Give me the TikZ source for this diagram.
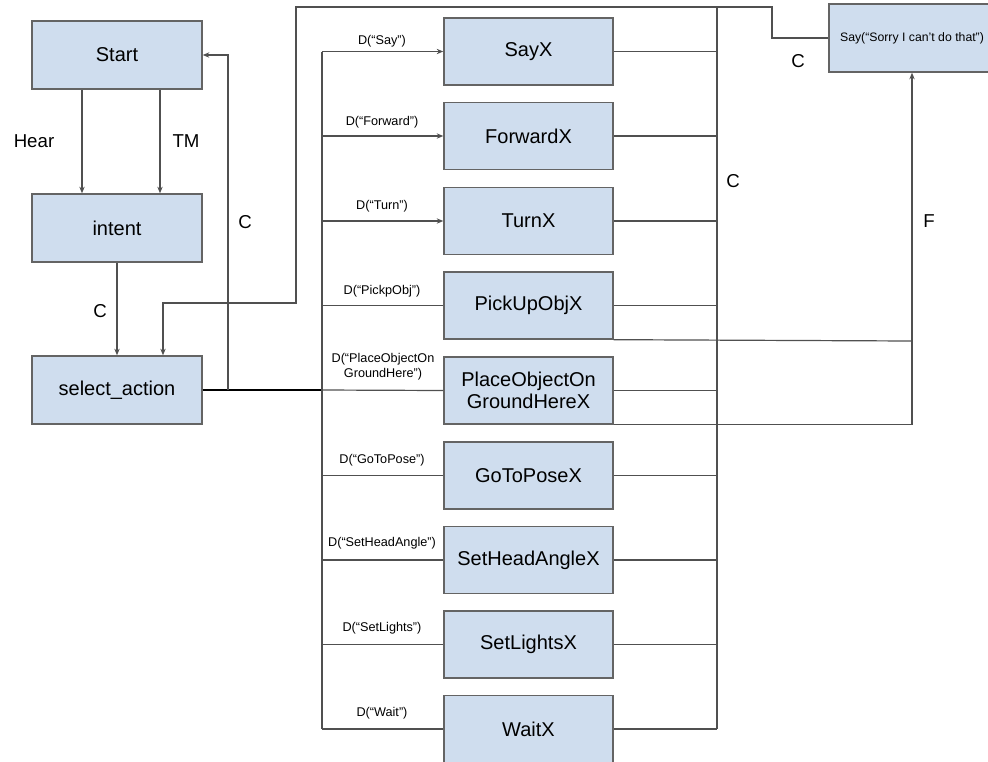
\documentclass[tikz,border=0pt]{standalone}
\usepackage{fontspec}
\setmainfont{Liberation Sans}
\usetikzlibrary{arrows.meta}
\definecolor{boxfill}{RGB}{207,221,238}
\definecolor{boxline}{RGB}{100,100,100}
\definecolor{conn}{RGB}{80,80,80}
\begin{document}
\begin{tikzpicture}[x=0.75pt,y=-0.75pt,
  blk/.style={draw=boxline,line width=1pt,fill=boxfill,minimum width=127.5pt,minimum height=51pt,inner sep=0pt,font=\fontsize{15}{17}\selectfont,align=center},
  mid/.style={blk,minimum width=126.75pt,minimum height=50.25pt},
  ln/.style={draw=conn,line width=0.9pt},
  arr/.style={ln,-{Stealth[length=5pt,width=4pt]}},
  lab/.style={font=\fontsize{14}{16}\selectfont,inner sep=0pt},
  dlab/.style={font=\fontsize{9.5}{11}\selectfont,inner sep=0pt,align=center}]
\useasboundingbox (0,0) rectangle (988,761);
% left column
\node[blk] (start) at (117,55) {Start};
\node[blk] (intent) at (117,228) {intent};
\node[blk] (sel) at (117,390) {select\_action};
% middle column
\node[mid] (sayx) at (528.5,51.5) {SayX};
\node[mid] (fwd) at (528.5,136) {ForwardX};
\node[mid] (turn) at (528.5,221) {TurnX};
\node[mid] (pick) at (528.5,305.5) {PickUpObjX};
\node[mid] (place) at (528.5,390.5) {PlaceObjectOn\\GroundHereX};
\node[mid] (gotopose) at (528.5,475.5) {GoToPoseX};
\node[mid] (head) at (528.5,560) {SetHeadAngleX};
\node[mid] (lights) at (528.5,644.5) {SetLightsX};
\node[mid] (wait) at (528.5,729) {WaitX};
% sorry box
\node[blk,minimum width=124.5pt,font=\fontsize{9.2}{11}\selectfont] (sorry) at (912,38) {Say(“Sorry I can’t do that”)};
% coordinates
\coordinate (lbtop) at (322,51.5);
\coordinate (lbbot) at (322,729);
\coordinate (rbtop) at (717,7);
\coordinate (rbbot) at (717,729);
\coordinate (cret) at (228,390);
\coordinate (jn) at (322,390);
\coordinate (pickend) at (912,341);
% start -> intent
\draw[arr] ([xshift=-26.25pt]start.south) -- ([xshift=-26.25pt]intent.north);
\draw[arr] ([xshift=32.25pt]start.south) -- ([xshift=32.25pt]intent.north);
\node[lab] (hear) at (34,141) {Hear};
\node[lab] (tm) at (186,141) {TM};
% intent -> select
\draw[arr] (intent.south) -- (sel.north);
\node[lab] (c1) at (100,311) {C};
% thick line
\draw[line width=2.2pt,black] (sel.east) -- (jn);
% return to start
\draw[arr] (cret) |- (start.east);
\node[lab] (c2) at (245,222) {C};
% sorry -> select_action
\draw[arr] (sorry.west) -| (772,7) -| (296,303) -| ([xshift=34.5pt]sel.north);
\node[lab] (c3) at (798,61) {C};
% left bus
\draw[ln] (lbtop) -- (lbbot);
\draw[arr] (lbtop) -- (sayx.west);
\draw[arr] (322,136) -- (fwd.west);
\draw[arr] (322,221) -- (turn.west);
\draw[ln] (322,305.5) -- (pick.west);
\draw[ln] (jn) -- (place.west);
\draw[ln] (322,475.5) -- (gotopose.west);
\draw[ln] (322,560) -- (head.west);
\draw[ln] (322,644.5) -- (lights.west);
\draw[ln] (lbbot) -- (wait.west);
% D labels
\node[dlab] (d1) at (382,41) {D(“Say”)};
\node[dlab] (d2) at (382,122) {D(“Forward”)};
\node[dlab] (d3) at (382,206) {D(“Turn”)};
\node[dlab] (d4) at (382,291) {D(“PickpObj”)};
\node[dlab] (d5) at (383,367) {D(“PlaceObjectOn\\GroundHere”)};
\node[dlab] (d6) at (382,460) {D(“GoToPose”)};
\node[dlab] (d7) at (382,543) {D(“SetHeadAngle”)};
\node[dlab] (d8) at (382,628) {D(“SetLights”)};
\node[dlab] (d9) at (382,713) {D(“Wait”)};
% right bus
\draw[ln] (rbtop) -- (rbbot);
\draw[ln] (sayx.east) -- (717,51.5);
\draw[ln] (fwd.east) -- (717,136);
\draw[ln] (turn.east) -- (717,221);
\draw[ln] (pick.east) -- (717,305.5);
\draw[ln] (place.east) -- (717,390.5);
\draw[ln] (gotopose.east) -- (717,475.5);
\draw[ln] (head.east) -- (717,560);
\draw[ln] (lights.east) -- (717,644.5);
\draw[ln] (wait.east) -- (rbbot);
\node[lab] (c4) at (733,181) {C};
% failure lines
\draw[ln] (pick.south east) -- (pickend);
\draw[arr] (place.south east) -| (sorry.south);
\node[lab] (f) at (929,221) {F};
\end{tikzpicture}
\end{document}
